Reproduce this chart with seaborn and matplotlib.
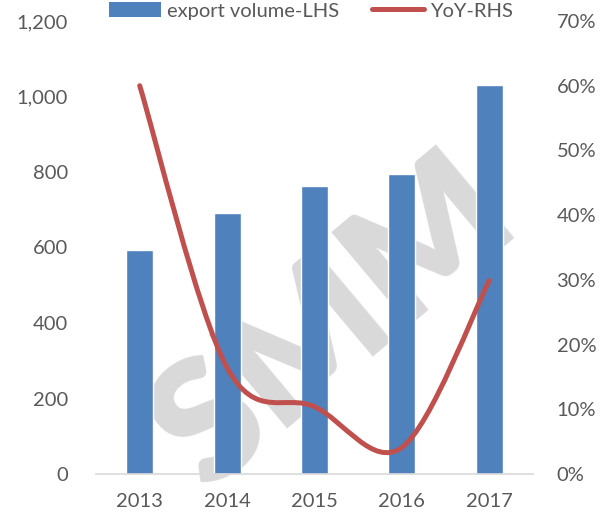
import numpy as np
import pandas as pd
import matplotlib
matplotlib.use("Agg")
import matplotlib.pyplot as plt
from matplotlib.path import Path
from matplotlib.patches import PathPatch, Patch
from matplotlib.lines import Line2D
from matplotlib.ticker import FuncFormatter, MultipleLocator
import seaborn as sns

years = ["2013", "2014", "2015", "2016", "2017"]
export_volume = [593, 691, 763, 795, 1031]
yoy = [0.60, 0.164, 0.104, 0.041, 0.299]

BLUE = "#4F81BD"
RED = "#C0504D"
GRAY = "#595959"

sns.set_style("white")
plt.rcParams["font.family"] = ["Lato", "DejaVu Sans"]

fig = plt.figure(figsize=(6.08, 5.21), dpi=100)
ax = fig.add_axes([96/608, 1-474/521, (533-96)/608, (474-21)/521])
ax.patch.set_visible(False)

# watermark
fig.text(0.55, 0.38, "SMM", fontsize=120, fontweight="heavy", color="#D9D9D9",
         rotation=40, ha="center", va="center", zorder=-5)

df = pd.DataFrame({"year": years, "volume": export_volume})
sns.barplot(data=df, x="year", y="volume", color=BLUE, width=0.31, ax=ax,
            saturation=1, zorder=2)
ax.set_ylim(0, 1200)
ax.set_xlim(-0.5, 4.5)
ax.yaxis.set_major_locator(MultipleLocator(200))
ax.yaxis.set_major_formatter(FuncFormatter(lambda v, p: f"{int(v):,}"))
ax.set_xlabel("")
ax.set_ylabel("")
for s in ["top", "left", "right"]:
    ax.spines[s].set_visible(False)
ax.spines["bottom"].set_color("#D9D9D9")
ax.spines["bottom"].set_linewidth(1.2)
ax.tick_params(axis="y", length=0, pad=20, labelsize=14.5, labelcolor=GRAY)
ax.tick_params(axis="x", length=0, pad=14, labelsize=14.5, labelcolor=GRAY)

ax2 = ax.twinx()
ax2.patch.set_visible(False)
ax2.set_ylim(0, 0.70)
ax2.yaxis.set_major_locator(MultipleLocator(0.10))
ax2.yaxis.set_major_formatter(FuncFormatter(lambda v, p: f"{v*100:.0f}%"))
for s in ["top", "left", "right", "bottom"]:
    ax2.spines[s].set_visible(False)
ax2.tick_params(axis="y", length=0, pad=17, labelsize=14.5, labelcolor=GRAY)

# smoothed line (Catmull-Rom style, like Excel smoothing)
xs = np.arange(len(yoy), dtype=float)
pts = np.column_stack([xs, np.array(yoy, dtype=float)])
verts = [tuple(pts[0])]
codes = [Path.MOVETO]
n = len(pts)
for i in range(n - 1):
    p0 = pts[i - 1] if i > 0 else pts[i]
    p1 = pts[i]
    p2 = pts[i + 1]
    p3 = pts[i + 2] if i + 2 < n else pts[i + 1]
    c1 = p1 + (p2 - p0) / 6.0
    c2 = p2 - (p3 - p1) / 6.0
    verts += [tuple(c1), tuple(c2), tuple(p2)]
    codes += [Path.CURVE4] * 3
patch = PathPatch(Path(verts, codes), facecolor="none", edgecolor=RED, lw=3.6,
                  capstyle="round", joinstyle="round", zorder=3)
ax2.add_patch(patch)

handles = [Patch(facecolor=BLUE, edgecolor="none"),
           Line2D([0], [0], color=RED, lw=3.6, solid_capstyle="round")]
fig.legend(handles, ["export volume-LHS", "YoY-RHS"], loc="center",
           bbox_to_anchor=(311/608, 1 - 11/521), ncol=2, frameon=False,
           fontsize=14.5, labelcolor=GRAY, handlelength=2.6, handleheight=0.7,
           handletextpad=0.3, columnspacing=1.6, borderpad=0, borderaxespad=0)

fig.savefig("out.png", dpi=100)
